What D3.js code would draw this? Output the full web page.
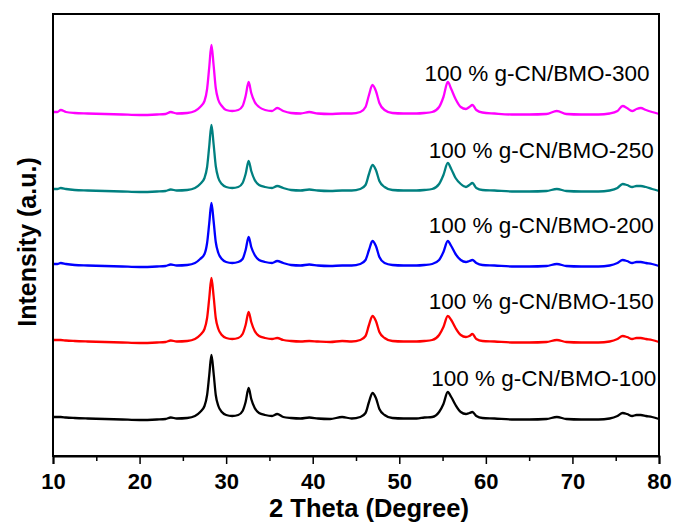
<!DOCTYPE html>
<html>
<head>
<meta charset="utf-8">
<script src="https://cdn.jsdelivr.net/npm/d3@7"></script>
<style>
  body { margin: 0; background: #fff; }
  svg { display: block; }
  text { font-family: "Liberation Sans", Arial, sans-serif; }
</style>
</head>
<body>
<div id="chart"></div>
<script>
// 2 theta sampling (degree)
const theta = [10, 10.5, 10.9, 11.5, 12.5, 14, 16, 18, 20, 22,
  23, 23.6, 24.3, 25.5, 26.4, 27, 27.5, 27.8, 28.05, 28.3,
  28.55, 28.8, 29.1, 29.5, 30, 30.7, 31.4, 31.9, 32.25, 32.6,
  32.9, 33.3, 33.8, 34.5, 35.3, 35.9, 36.6, 37.5, 38.6, 39.6,
  40.6, 42, 43.4, 44.5, 45.5, 46.1, 46.5, 46.9, 47.3, 47.7,
  48.3, 49.2, 50.5, 52, 52.9, 53.8, 54.6, 55.1, 55.6, 56,
  56.5, 57.1, 57.7, 58.1, 58.45, 58.9, 59.6, 61, 63, 65,
  67, 68.2, 69.3, 71, 73, 74.3, 75.2, 75.8, 76.3, 76.9,
  77.4, 77.9, 78.5, 79.2, 80];

// intensities above each pattern's own baseline (a.u.)
const bmo100 = [3, 3, 3, 2.5, 2, 1.5, 1, 0.5, 0, 0.5,
  1, 2.5, 1.5, 2, 4, 8, 14, 25, 45, 65,
  47, 25, 14, 8, 5, 4, 5, 9, 18, 32,
  21, 12, 7, 5, 4, 6, 3, 2, 1.5, 2.5,
  1.5, 1, 3, 1.5, 3, 7, 18, 27, 22, 11,
  5, 2, 1.5, 1.5, 2.5, 3, 8, 16, 28, 23,
  15, 8, 6, 7, 8, 4, 2, 1.5, 0.5, 0.5,
  1, 3, 1, 0.5, 0.5, 1.5, 4, 7, 6, 4,
  5, 5, 4, 3, 1];
const bmo150 = [3, 3, 3, 2.5, 2, 1.5, 1, 0.5, 0, 0.5,
  1, 2.5, 1.5, 2, 4, 8, 14, 25, 45, 65,
  47, 25, 14, 8, 5, 4, 5, 9, 18, 31,
  21, 12, 7, 5, 4, 5, 3, 2, 1.5, 2,
  1.5, 1, 2, 1.5, 3, 7, 18, 27, 22, 11,
  5, 2, 1.5, 1.5, 2, 3, 8, 16, 27, 23,
  15, 8, 6, 7, 9, 4, 2, 1.5, 0.5, 0.5,
  1, 3, 1, 0.5, 0.5, 1.5, 4, 7, 6, 4,
  5, 5, 4, 3, 1];
const bmo200 = [3, 3, 4, 3, 2, 1.5, 1, 0.5, 0, 0.5,
  1, 2.5, 1.5, 2, 4, 8, 13, 24, 44, 64,
  46, 25, 14, 8, 5, 4, 5, 8, 17, 30,
  20, 12, 7, 5, 4, 6, 4, 2, 1.5, 2.5,
  1.5, 1, 1.5, 1.5, 3, 7, 17, 26, 21, 10,
  4, 2, 1.5, 1.5, 2, 3, 7, 15, 26, 21,
  13, 7, 5, 6, 7, 4, 2, 1.5, 0.5, 0.5,
  1, 3, 1, 0.5, 0.5, 1.5, 4, 7, 6, 4,
  5, 5, 4, 3, 1];
const bmo250 = [3, 3, 4, 3, 2, 1.5, 1, 0.5, 0, 0.5,
  1, 2.5, 1.5, 2, 4, 8, 14, 25, 46, 67,
  48, 26, 14, 8, 5, 4, 5, 9, 18, 31,
  21, 12, 7, 5, 4, 6, 4, 2, 1.5, 2.5,
  1.5, 1, 1.5, 1.5, 3, 7, 18, 27, 22, 11,
  5, 2, 1.5, 1.5, 2, 3, 8, 17, 29, 23,
  14, 8, 5, 7, 9, 4, 2, 1.5, 0.5, 0.5,
  1, 3, 1, 0.5, 0.5, 1.5, 4, 8, 7, 5,
  6, 6, 5, 3, 1];
const bmo300 = [3, 3, 5, 3, 2, 1.5, 1, 0.5, 0, 0.5,
  1, 3, 1.5, 2, 4, 8, 14, 26, 48, 70,
  50, 27, 15, 9, 5, 4, 5, 9, 19, 33,
  22, 13, 8, 5, 4, 7, 4, 2, 1.5, 3,
  1.5, 1, 1.5, 1.5, 3, 8, 20, 30, 24, 12,
  5, 2, 1.5, 1.5, 2, 3, 8, 18, 33, 26,
  16, 8, 6, 8, 10, 5, 2.5, 1.5, 0.5, 0.5,
  1, 4, 1, 0.5, 0.5, 1.5, 4, 9, 7, 4,
  6, 7, 5, 3, 1];

const seriesNames = ["100 % g-CN/BMO-100", "100 % g-CN/BMO-150", "100 % g-CN/BMO-200",
  "100 % g-CN/BMO-250", "100 % g-CN/BMO-300"];
const seriesValues = [bmo100, bmo150, bmo200, bmo250, bmo300];
// vertical stacking offsets (a.u.)
const offsets = [36, 113, 189, 264, 341];
const colors = ["#000000", "#ff0000", "#0000ff", "#008080", "#ff00ff"];
const xTicks = [10, 20, 30, 40, 50, 60, 70, 80];
const xMinorTicks = [15, 25, 35, 45, 55, 65, 75];

const width = 675, height = 526;
const margin = { top: 14, right: 16, bottom: 70, left: 53 };
const innerW = width - margin.left - margin.right;
const innerH = height - margin.top - margin.bottom;

const svg = d3.select("#chart").append("svg")
  .attr("width", width)
  .attr("height", height);

const g = svg.append("g")
  .attr("transform", `translate(${margin.left},${margin.top})`);

const x = d3.scaleLinear().domain([10, 80]).range([0, innerW]);
const y = d3.scaleLinear().domain([0, innerH]).range([innerH, 0]);

const line = d3.line()
  .x(d => x(d[0]))
  .y(d => y(d[1]))
  .curve(d3.curveMonotoneX);

// patterns
seriesValues.forEach((vals, i) => {
  const pts = theta.map((t, j) => [t, offsets[i] + vals[j]]);
  g.append("path")
    .datum(pts)
    .attr("fill", "none")
    .attr("stroke", colors[i])
    .attr("stroke-width", 2.3)
    .attr("stroke-linejoin", "round")
    .attr("d", line);

  g.append("text")
    .attr("x", x(i === 4 ? 78.9 : (i === 0 ? 79.7 : 79.4)))
    .attr("y", y(offsets[i] + 34))
    .attr("text-anchor", "end")
    .attr("font-size", "22.5px")
    .attr("fill", "#000")
    .text(seriesNames[i]);
});

// frame
g.append("rect")
  .attr("x", 0).attr("y", 0)
  .attr("width", innerW).attr("height", innerH)
  .attr("fill", "none")
  .attr("stroke", "#000")
  .attr("stroke-width", 2);

// x axis
const xAxis = g.append("g")
  .attr("transform", `translate(0,${innerH})`)
  .call(d3.axisBottom(x).tickValues(xTicks).tickSize(8).tickPadding(9).tickFormat(d3.format("d")));
xAxis.select(".domain").attr("stroke-width", 2);
xAxis.selectAll(".tick line").attr("stroke-width", 1.5);
xAxis.selectAll("text")
  .attr("font-family", "'Liberation Sans', Arial, sans-serif")
  .attr("font-size", "22px")
  .attr("font-weight", "bold")
  .attr("fill", "#000");

g.append("g")
  .attr("transform", `translate(0,${innerH})`)
  .call(d3.axisBottom(x).tickValues(xMinorTicks).tickSize(5).tickFormat(""))
  .call(a => a.select(".domain").remove())
  .selectAll(".tick line").attr("stroke-width", 1.5);

// axis titles
svg.append("text")
  .attr("x", 369)
  .attr("y", 517)
  .attr("text-anchor", "middle")
  .attr("font-size", "25.5px")
  .attr("font-weight", "bold")
  .text("2 Theta (Degree)");

svg.append("text")
  .attr("transform", "translate(36,242) rotate(-90)")
  .attr("text-anchor", "middle")
  .attr("font-size", "25px")
  .attr("font-weight", "bold")
  .text("Intensity (a.u.)");
</script>
</body>
</html>
